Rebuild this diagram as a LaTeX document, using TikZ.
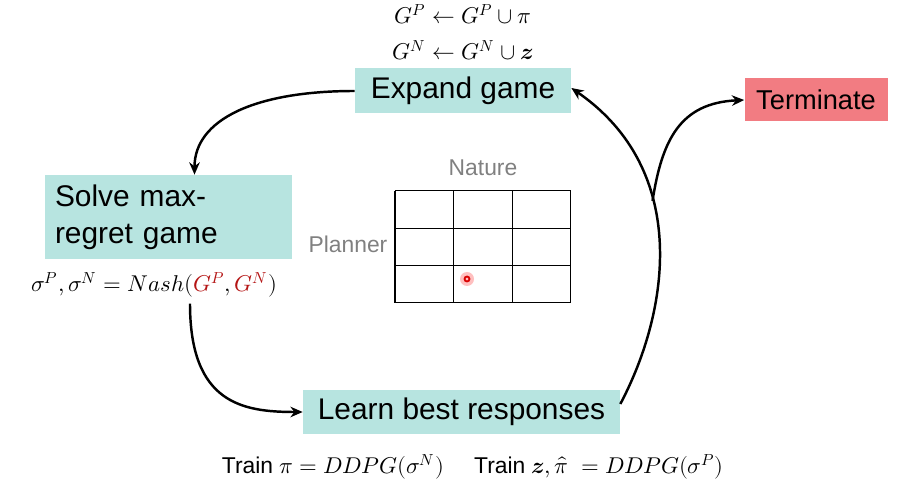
\documentclass[tikz,border=0pt]{standalone}
\usepackage{fontspec}
\usepackage{unicode-math}
\setsansfont{Liberation Sans}
\setmathfont{Latin Modern Math}
\usetikzlibrary{arrows.meta}
\definecolor{stagefill}{RGB}{183,228,224}
\definecolor{stopfill}{RGB}{242,124,130}
\definecolor{gamered}{RGB}{180,20,20}
\begin{document}
\begin{tikzpicture}[x=0.02cm,y=-0.02cm,
    stage/.style={fill=stagefill, font=\sffamily\fontsize{17}{21}\selectfont, inner sep=0pt},
    lbl/.style={font=\fontsize{13}{15}\selectfont},
    axis/.style={text=gray, font=\sffamily\fontsize{13}{15}\selectfont},
    flow/.style={-{Stealth[length=7pt,width=6pt]}, line width=1.4pt}]
  \useasboundingbox (0,0) rectangle (905,492);
  %\draw [help lines] (0,0) grid (905,492);
  \node[stage, minimum width=4.32cm, minimum height=0.9cm] (expand) at (463,91) {Expand game};
  \node[stage, fill=stopfill, font=\sffamily\fontsize{15.5}{18}\selectfont,
        minimum width=2.86cm, minimum height=0.86cm] (terminate) at (816,100) {Terminate};
  \node[stage, minimum width=4.94cm, minimum height=1.68cm, inner xsep=0.2cm,
        text width=4.54cm, align=left] (solve) at (168.5,217) {Solve max-\\regret game};
  \node[stage, minimum width=6.34cm, minimum height=0.9cm] (learn) at (461.5,412) {Learn best responses};

  \node[lbl] (addp) at (463,14) {$G^P \leftarrow G^P \cup \pi$};
  \node[lbl] (addn) at (463,50) {$G^N \leftarrow G^N \cup \symbfit{z}$};
  \node[lbl] (nash) at (154,285) {$\sigma^P,\sigma^N = Nash(\textcolor{gamered}{G^P},\textcolor{gamered}{G^N})$};
  \node[lbl] (trainp) at (333,467) {\sffamily Train $\pi = DDPG(\sigma^N)$};
  \node[lbl] (trainn) at (599,467) {\sffamily Train $\symbfit{z},\hat{\pi}\ = DDPG(\sigma^P)$};

  % payoff matrix
  \foreach \x in {395,453.7,512.3,570.7}
    \draw[line width=0.8pt] (\x,190.7) -- (\x,302.7);
  \foreach \y in {190.7,228.3,265.7,302.7}
    \draw[line width=0.8pt] (395,\y) -- (570.7,\y);
  \node[axis] (nature) at (483,168) {Nature};
  \node[axis] (planner) at (348,244) {Planner};
  \fill[red!25] (467,279) circle (7);
  \draw[red!85!black, line width=1pt] (467,279) circle (2.5);

  \draw[flow] (expand.west) .. controls +(-100,0) and +(0,-55) .. ([xshift=0.52cm]solve.north);
  \draw[flow] ([xshift=0.72cm]nash.south) .. controls +(0,100) and +(-60,0) .. (learn.west);
  \draw[flow] ([yshift=0.16cm]learn.east) .. controls (670,310) and (690,170) .. coordinate[pos=0.62] (fork) ([yshift=0.06cm]expand.east);
  \draw[flow] (fork) .. controls (662,140) and (680,103) .. (terminate.west);
\end{tikzpicture}
\end{document}
